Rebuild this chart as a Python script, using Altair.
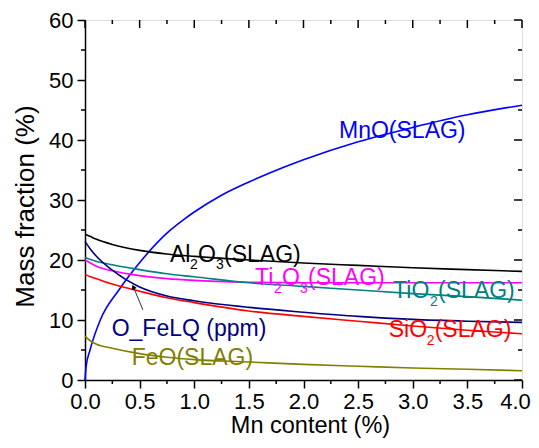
import altair as alt
import pandas as pd

# ---------------- data ----------------
grid_x = [0, 0.05, 0.1, 0.25, 0.5, 0.75, 1.0, 1.5, 2.0, 2.5, 3.0, 3.5, 4.0]

mno_x = [0, 0.01, 0.046, 0.14, 0.31, 0.52, 0.77, 0.9, 1.0, 1.25, 1.5, 1.69, 2.0, 2.5, 3.0, 3.5, 4.0]
mno_y = [0, 2.2, 5.0, 10.0, 15.0, 20.0, 24.8, 26.7, 28.0, 30.8, 33.0, 34.5, 36.7, 39.7, 42.1, 44.2, 45.8]

al2o3_y = [24.3, 23.9, 23.5, 22.6, 21.6, 21.0, 20.6, 20.0, 19.5, 19.1, 18.7, 18.4, 18.1]
ti2o3_y = [20.0, 19.5, 19.0, 18.2, 17.4, 16.9, 16.6, 16.3, 16.2, 16.2, 16.2, 16.2, 16.2]
tio2_y  = [20.4, 20.1, 19.8, 19.2, 18.4, 17.7, 17.2, 16.2, 15.6, 15.0, 14.4, 13.9, 13.3]
sio2_y  = [17.6, 17.2, 16.9, 16.0, 14.8, 13.7, 12.9, 11.5, 10.6, 9.8, 9.0, 8.3, 7.7]
ofelq_y = [23.1, 21.8, 20.7, 18.3, 15.5, 14.0, 13.2, 12.1, 11.3, 10.6, 10.1, 9.8, 9.6]
feo_y   = [7.3, 6.5, 6.0, 5.3, 4.4, 3.8, 3.4, 3.0, 2.6, 2.3, 2.0, 1.8, 1.55]

series_names = ["MnO", "Al2O3", "Ti2O3", "TiO2", "SiO2", "O_FeLQ", "FeO"]
series_colors = ["#0000FF", "#000000", "#FF00FF", "#008080", "#FF0000", "#000080", "#808000"]

x_ticks_major = [0, 0.5, 1.0, 1.5, 2.0, 2.5, 3.0, 3.5, 4.0]
x_ticks_minor = [0.25, 0.75, 1.25, 1.75, 2.25, 2.75, 3.25, 3.75]
y_ticks_major = [0, 10, 20, 30, 40, 50, 60]
y_ticks_minor = [5, 15, 25, 35, 45, 55]

# label anchors (data coords)
label_mno = (2.325, 40.3)
label_al2o3 = (0.778, 19.7)
label_ti2o3 = (1.556, 15.8)
label_tio2 = (2.82, 13.6)
label_sio2 = (2.78, 7.2)
label_ofelq = (0.244, 7.33)
label_feo = (0.427, 2.5)
arrow_tail = (0.53, 11.7)
arrow_tip = (0.445, 15.4)

# ---------------- build table ----------------
rows = []
for xv, yv in zip(mno_x, mno_y):
    rows.append({"x": xv, "y": yv, "s": "MnO"})
for name, ys in [("Al2O3", al2o3_y), ("Ti2O3", ti2o3_y), ("TiO2", tio2_y),
                 ("SiO2", sio2_y), ("O_FeLQ", ofelq_y), ("FeO", feo_y)]:
    for xv, yv in zip(grid_x, ys):
        rows.append({"x": xv, "y": yv, "s": name})
df = pd.DataFrame(rows)

FONT = "Liberation Sans"
W, H = 437, 360

xscale = alt.Scale(domain=[0, 4], nice=False, zero=False)
yscale = alt.Scale(domain=[0, 60], nice=False, zero=False)
xaxis = alt.Axis(values=x_ticks_major, format=".1f", title="Mn content (%)",
                 labelFontSize=22, titleFontSize=23.5, labelFont=FONT, titleFont=FONT,
                 titleFontWeight="normal", tickSize=8, tickWidth=1.5, tickColor="black",
                 domainColor="black", domainWidth=1.5, grid=False, labelColor="black",
                 titleColor="black", labelPadding=3, titlePadding=1, titleX=225,
                 labelFlush=False,
                 labelOffset={"condition": {"test": "datum.value == 4", "value": -7}, "value": 0})
yaxis = alt.Axis(values=y_ticks_major, format="d", title="Mass fraction (%)",
                 labelFontSize=22, titleFontSize=26, labelFont=FONT, titleFont=FONT,
                 titleFontWeight="normal", tickSize=8, tickWidth=1.5, tickColor="black",
                 domainColor="black", domainWidth=1.5, grid=False, labelColor="black",
                 titleColor="black", labelPadding=4, titlePadding=10, titleY=186)


def X(field):
    return alt.X(field, type="quantitative", scale=xscale, axis=xaxis)


def Y(field):
    return alt.Y(field, type="quantitative", scale=yscale, axis=yaxis)


lines = alt.Chart(df).mark_line(strokeWidth=1.6, interpolate="monotone").encode(
    x=X("x"), y=Y("y"),
    color=alt.Color("s:N", scale=alt.Scale(domain=series_names, range=series_colors), legend=None),
)

layers = [lines]


def label(anchor, color, frags):
    d = pd.DataFrame({"x": [anchor[0]], "y": [anchor[1]]})
    out = []
    for text, dx, dy, size in frags:
        out.append(alt.Chart(d).mark_text(text=text, align="left", baseline="alphabetic",
                                          font=FONT, fontSize=size, color=color,
                                          dx=dx, dy=dy).encode(x=X("x"), y=Y("y")))
    return out


S, SS = 23, 14
layers += label(label_mno, "#0000FF", [("MnO(SLAG)", 0, 0, S)])
layers += label(label_al2o3, "#000000", [("Al", 0, 0, S), ("2", 20, 7, SS), ("O", 28, 0, S),
                                         ("3", 46, 7, SS), ("(SLAG)", 54, 0, S)])
layers += label(label_ti2o3, "#FF00FF", [("Ti", 0, 0, S), ("2", 19, 8, SS), ("O", 27, 0, S),
                                         ("3", 45, 8, SS), ("(SLAG)", 53, 0, S)])
layers += label(label_tio2, "#008080", [("TiO", 0, 0, S), ("2", 37, 8, SS), ("(SLAG)", 45, 0, S)])
layers += label(label_sio2, "#FF0000", [("SiO", 0, 0, S), ("2", 38, 8, SS), ("(SLAG)", 46, 0, S)])
layers += label(label_ofelq, "#000080", [("O_FeLQ (ppm)", 0, 0, S)])
layers += label(label_feo, "#808000", [("FeO(SLAG)", 0, 0, S)])

# arrow
arr = pd.DataFrame({"x": [arrow_tail[0]], "y": [arrow_tail[1]],
                    "x2": [arrow_tip[0]], "y2": [arrow_tip[1]]})
layers.append(alt.Chart(arr).mark_rule(color="#333333", strokeWidth=1).encode(
    x=X("x"), y=Y("y"), x2="x2", y2="y2"))
tip = pd.DataFrame({"x": [arrow_tip[0]], "y": [arrow_tip[1]]})
layers.append(alt.Chart(tip).mark_point(shape="triangle", filled=True, color="black",
                                        size=30, angle=337, opacity=1).encode(
    x=X("x"), y=Y("y")))

# extra ticks
xmaj = pd.DataFrame({"x": x_ticks_major})
xmin = pd.DataFrame({"x": x_ticks_minor})
ymaj = pd.DataFrame({"y": y_ticks_major})
ymin = pd.DataFrame({"y": y_ticks_minor})
tick_style = dict(color="black", strokeWidth=1.5)
# bottom minor (outward)
layers.append(alt.Chart(xmin).mark_rule(**tick_style).encode(
    x=X("x"), y=alt.value(H), y2=alt.value(H + 4)))
# top major/minor (inward)
layers.append(alt.Chart(xmaj).mark_rule(**tick_style).encode(
    x=X("x"), y=alt.value(0), y2=alt.value(8)))
layers.append(alt.Chart(xmin).mark_rule(**tick_style).encode(
    x=X("x"), y=alt.value(0), y2=alt.value(4)))
# left minor (outward)
layers.append(alt.Chart(ymin).mark_rule(**tick_style).encode(
    y=Y("y"), x=alt.value(0), x2=alt.value(-4)))
# right major/minor (inward)
layers.append(alt.Chart(ymaj).mark_rule(**tick_style).encode(
    y=Y("y"), x=alt.value(W), x2=alt.value(W - 8)))
layers.append(alt.Chart(ymin).mark_rule(**tick_style).encode(
    y=Y("y"), x=alt.value(W), x2=alt.value(W - 4)))

chart = alt.layer(*layers).properties(
    width=W, height=H,
    autosize=alt.AutoSizeParams(type="none"),
    padding={"left": 77, "top": 12, "right": 9, "bottom": 60},
).configure_view(stroke="black", strokeWidth=1.5).configure(background="white")

chart.save("out.html", embed_options={"renderer": "svg", "actions": False})
